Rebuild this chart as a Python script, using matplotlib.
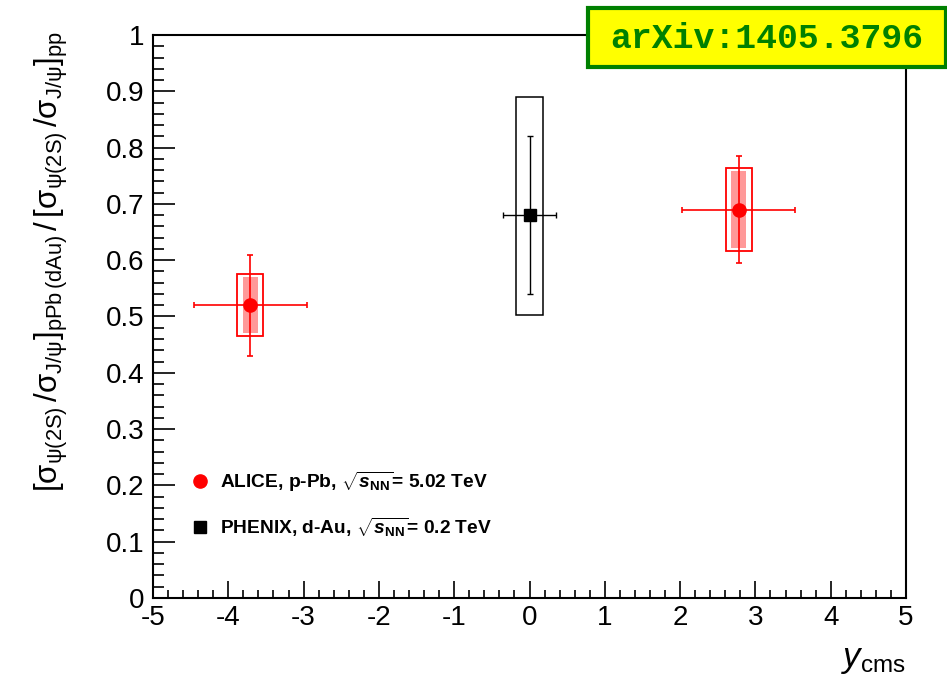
import matplotlib
matplotlib.use("Agg")
import matplotlib.pyplot as plt
from matplotlib.ticker import MultipleLocator, FuncFormatter
from matplotlib.lines import Line2D
from matplotlib.patches import Rectangle

plt.rcParams['font.family'] = ['Liberation Sans', 'DejaVu Sans']
plt.rcParams['mathtext.fontset'] = 'custom'
plt.rcParams['mathtext.rm'] = 'Liberation Sans'
plt.rcParams['mathtext.it'] = 'Liberation Sans:italic'
plt.rcParams['mathtext.bf'] = 'Liberation Sans:bold'
plt.rcParams['mathtext.bfit'] = 'Liberation Sans:italic:bold'

# ALICE p-Pb, sqrt(sNN) = 5.02 TeV
alice_y = [-3.71, 2.78]
alice_yerr = [0.75, 0.75]
alice_ratio = [0.52, 0.69]
alice_stat = [0.09, 0.095]
alice_sys_unc = [0.05, 0.068]
alice_sys_tot = [0.055, 0.073]

# PHENIX d-Au, sqrt(sNN) = 0.2 TeV
phenix_y = [0.0]
phenix_yerr = [0.35]
phenix_ratio = [0.68]
phenix_stat = [0.14]
phenix_sys_lo = [0.177]
phenix_sys_hi = [0.209]

red = '#ff0000'
fig = plt.figure(figsize=(9.47, 6.76), dpi=100)
ax = fig.add_axes([153/947, 1-598/676, 753/947, 563/676])

# systematic boxes
ax.bar(alice_y, [2*e for e in alice_sys_unc],
       bottom=[r - e for r, e in zip(alice_ratio, alice_sys_unc)],
       width=0.2, color='#ff9999', edgecolor='none', zorder=1)
ax.bar(alice_y, [2*e for e in alice_sys_tot],
       bottom=[r - e for r, e in zip(alice_ratio, alice_sys_tot)],
       width=0.354, facecolor='none', edgecolor=red, linewidth=1.3, zorder=2)
ax.bar(phenix_y, [lo + hi for lo, hi in zip(phenix_sys_lo, phenix_sys_hi)],
       bottom=[r - lo for r, lo in zip(phenix_ratio, phenix_sys_lo)],
       width=0.36, facecolor='none', edgecolor='black', linewidth=1.1, zorder=2)

# points with stat errors
ax.errorbar(alice_y, alice_ratio, xerr=alice_yerr, yerr=alice_stat, fmt='o',
            color=red, ms=9.5, elinewidth=1.2, capsize=2.5, capthick=1.2, zorder=3)
ax.errorbar(phenix_y, phenix_ratio, xerr=phenix_yerr, yerr=phenix_stat, fmt='s',
            color='black', ms=8.5, elinewidth=1.0, capsize=2.5, capthick=1.0, zorder=3)

ax.set_xlim(-5, 5)
ax.set_ylim(0, 1)
ax.xaxis.set_major_locator(MultipleLocator(1))
ax.xaxis.set_minor_locator(MultipleLocator(0.2))
ax.yaxis.set_major_locator(MultipleLocator(0.1))
ax.yaxis.set_minor_locator(MultipleLocator(0.02))
ax.xaxis.set_major_formatter(FuncFormatter(lambda v, p: '%g' % v))
ax.yaxis.set_major_formatter(FuncFormatter(lambda v, p: '%g' % round(v, 2)))
ax.tick_params(axis='both', which='both', direction='in', top=False, right=False,
               labelsize=20, width=1.2)
ax.tick_params(axis='x', which='major', length=12, pad=5)
ax.tick_params(axis='x', which='minor', length=6)
ax.tick_params(axis='y', which='major', length=16, pad=6)
ax.tick_params(axis='y', which='minor', length=8)
for s in ax.spines.values():
    s.set_linewidth(1.5)

sig = r'\mathrm{\sigma}'
fig.text(0.054, 0.955,
         r'$[' + sig + r'_{\mathrm{\psi(2S)}}\,/' + sig + r'_{\mathrm{J/\psi}}]_{\mathrm{pPb\,(dAu)}}\,/\,'
         r'[' + sig + r'_{\mathrm{\psi(2S)}}\,/' + sig + r'_{\mathrm{J/\psi}}]_{\mathrm{pp}}$',
         rotation=90, ha='center', va='top', fontsize=22.5)
fig.text(906/947, 0.0, r'$y_{\mathrm{cms}}$', ha='right', va='bottom', fontsize=25)

handles = [
    Line2D([], [], marker='o', color=red, ls='none', ms=9.5),
    Line2D([], [], marker='s', color='black', ls='none', ms=8.5),
]
labels = [
    r'ALICE, p-Pb, $\sqrt{\mathbfit{s}_{\mathbf{NN}}}$= 5.02 TeV',
    r'PHENIX, d-Au, $\sqrt{\mathbfit{s}_{\mathbf{NN}}}$= 0.2 TeV',
]
ax.legend(handles, labels, loc='upper left', bbox_to_anchor=(0.02, 0.259),
          frameon=False, prop={'weight': 'bold', 'size': 13.8},
          handletextpad=0.3, labelspacing=1.17, handlelength=1.5)

fig.patches.append(Rectangle((588/947, 1-67/676), 358/947, 59/676,
                             transform=fig.transFigure, facecolor='#ffff00',
                             edgecolor='#008000', linewidth=3, zorder=5))
fig.text(767/947, 1-38/676, 'arXiv:1405.3796', ha='center', va='center',
         fontsize=25, family='Liberation Mono', weight='bold', color='#008000',
         zorder=6)

fig.savefig('out.png', dpi=100)
